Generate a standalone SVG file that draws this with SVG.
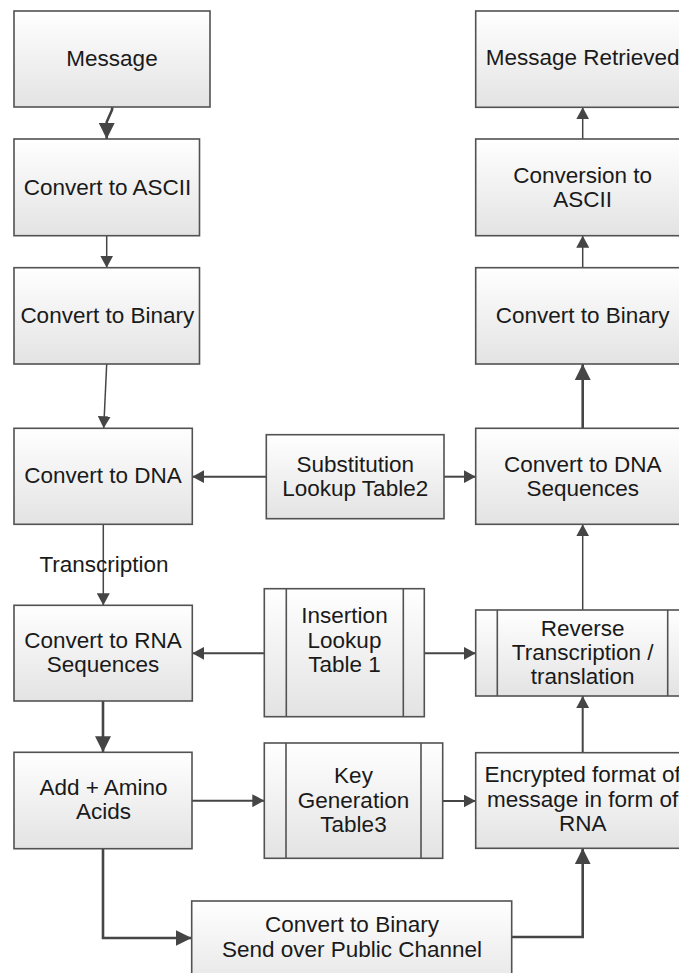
<svg xmlns="http://www.w3.org/2000/svg" width="679" height="973" viewBox="0 0 679 973">
<defs>
<linearGradient id="g" x1="0" y1="0" x2="0" y2="1">
<stop offset="0" stop-color="#ffffff"/>
<stop offset="1" stop-color="#e3e3e3"/>
</linearGradient>
<marker id="s" markerUnits="userSpaceOnUse" markerWidth="12" markerHeight="13" viewBox="0 0 12 13" refX="12" refY="6.5" orient="auto">
<path d="M0,0 L12,6.5 L0,13 z" fill="#454545"/>
</marker>
<marker id="l" markerUnits="userSpaceOnUse" markerWidth="16" markerHeight="16" viewBox="0 0 16 16" refX="16" refY="8" orient="auto">
<path d="M0,0 L16,8 L0,16 z" fill="#454545"/>
</marker>
</defs>
<style>
.box{fill:url(#g);stroke:#525252;stroke-width:1.6}
.band{fill:none;stroke:#525252;stroke-width:1.6}
.t{font-family:"Liberation Sans",Arial,sans-serif;font-size:22.5px;fill:#1a1a1a;text-anchor:middle}
.c{fill:none;stroke:#454545;stroke-width:1.5}
.m{stroke-width:2}
.k{stroke-width:2.6}
.cs{marker-end:url(#s)}
.cl{marker-end:url(#l)}
</style>
<rect width="679" height="973" fill="#ffffff"/>

<g id="connectors">
<path class="c k cl" d="M112.3,107 L112,110 L106.7,122 L106.7,139"/>
<path class="c cs" d="M106.7,236 L106.7,267.7"/>
<path class="c cs" d="M106.7,364 L103.7,428.3"/>
<path class="c cs" d="M103.3,524.3 L103.3,605.3"/>
<path class="c k cl" d="M103,701 L103,752.3"/>
<path class="c k cl" d="M103,848.7 L103,938 L191.7,938"/>
<path class="c k cl" d="M511.7,937 L582.7,937 L582.7,848.3"/>
<path class="c m cs" d="M582.7,752.7 L582.7,696"/>
<path class="c cs" d="M582.7,610 L582.7,524.3"/>
<path class="c k cl" d="M582.7,428.3 L582.7,364"/>
<path class="c cs" d="M582.7,267.7 L582.7,235.7"/>
<path class="c cs" d="M582.7,139 L582.7,107.3"/>
<path class="c m cs" d="M266.3,476.7 L192.3,476.7"/>
<path class="c m cs" d="M444,476.7 L475.7,476.7"/>
<path class="c m cs" d="M264.3,653.3 L192.3,653.3"/>
<path class="c m cs" d="M424.3,653.3 L475.7,653.3"/>
<path class="c m cs" d="M192,800.7 L264.3,800.7"/>
<path class="c m cs" d="M442.7,801 L475.7,801"/>
</g>

<g id="message">
<rect class="box" x="14" y="11" width="196" height="96"/>
<text class="t" x="112" y="66">Message</text>
</g>
<g id="convert-ascii">
<rect class="box" x="14" y="139" width="185.5" height="96.7"/>
<text class="t" x="107.5" y="195">Convert to ASCII</text>
</g>
<g id="convert-binary-left">
<rect class="box" x="14" y="267.7" width="185.5" height="96.3"/>
<text class="t" x="107.3" y="323.3">Convert to Binary</text>
</g>
<g id="convert-dna">
<rect class="box" x="14" y="428.3" width="178.3" height="96"/>
<text class="t" x="103" y="483.3">Convert to DNA</text>
</g>
<g id="transcription-label">
<text class="t" x="104" y="572">Transcription</text>
</g>
<g id="convert-rna">
<rect class="box" x="14" y="605.3" width="178.3" height="95.7"/>
<text class="t" x="103" y="647.7">Convert to RNA</text>
<text class="t" x="103" y="671.7">Sequences</text>
</g>
<g id="add-amino">
<rect class="box" x="14" y="752.3" width="178" height="96.4"/>
<text class="t" x="103.5" y="795">Add + Amino</text>
<text class="t" x="103.5" y="819">Acids</text>
</g>
<g id="send-public">
<rect class="box" x="191.7" y="901" width="320" height="96"/>
<text class="t" x="352" y="932.3">Convert to Binary</text>
<text class="t" x="352" y="956.7">Send over Public Channel</text>
</g>
<g id="substitution">
<rect class="box" x="266.3" y="434.7" width="177.7" height="84"/>
<text class="t" x="355.2" y="471.7">Substitution</text>
<text class="t" x="355.2" y="496">Lookup Table2</text>
</g>
<g id="insertion">
<rect class="box" x="264.3" y="588.7" width="160" height="128"/>
<line class="band" x1="286.3" y1="588.7" x2="286.3" y2="716.7"/>
<line class="band" x1="403.3" y1="588.7" x2="403.3" y2="716.7"/>
<text class="t" x="344.5" y="623.3">Insertion</text>
<text class="t" x="344.5" y="647.7">Lookup</text>
<text class="t" x="344.5" y="671.7">Table 1</text>
</g>
<g id="key-generation">
<rect class="box" x="264.3" y="743" width="178.4" height="115.3"/>
<line class="band" x1="286" y1="743" x2="286" y2="858.3"/>
<line class="band" x1="421" y1="743" x2="421" y2="858.3"/>
<text class="t" x="353.5" y="783.3">Key</text>
<text class="t" x="353.5" y="808.3">Generation</text>
<text class="t" x="353.5" y="831.7">Table3</text>
</g>
<g id="message-retrieved">
<rect class="box" x="475.7" y="11" width="213.3" height="96.3"/>
<text class="t" x="582.7" y="65">Message Retrieved</text>
</g>
<g id="conversion-ascii">
<rect class="box" x="475.7" y="139" width="213.3" height="96.7"/>
<text class="t" x="582.7" y="183.3">Conversion to</text>
<text class="t" x="582.7" y="206.7">ASCII</text>
</g>
<g id="convert-binary-right">
<rect class="box" x="475.7" y="267.7" width="213.3" height="96.3"/>
<text class="t" x="582.7" y="323">Convert to Binary</text>
</g>
<g id="convert-dna-seq">
<rect class="box" x="475.7" y="428.3" width="213.3" height="96"/>
<text class="t" x="582.7" y="471.7">Convert to DNA</text>
<text class="t" x="582.7" y="496">Sequences</text>
</g>
<g id="reverse-transcription">
<rect class="box" x="475.7" y="610" width="213.3" height="86"/>
<line class="band" x1="497.3" y1="610" x2="497.3" y2="696"/>
<line class="band" x1="667.7" y1="610" x2="667.7" y2="696"/>
<text class="t" x="582.7" y="636">Reverse</text>
<text class="t" x="582.7" y="660">Transcription /</text>
<text class="t" x="582.7" y="684">translation</text>
</g>
<g id="encrypted">
<rect class="box" x="475.7" y="752.7" width="213.3" height="95.6"/>
<text class="t" x="582.7" y="782.3">Encrypted format of</text>
<text class="t" x="582.7" y="806.7">message in form of</text>
<text class="t" x="582.7" y="830.7">RNA</text>
</g>
</svg>
